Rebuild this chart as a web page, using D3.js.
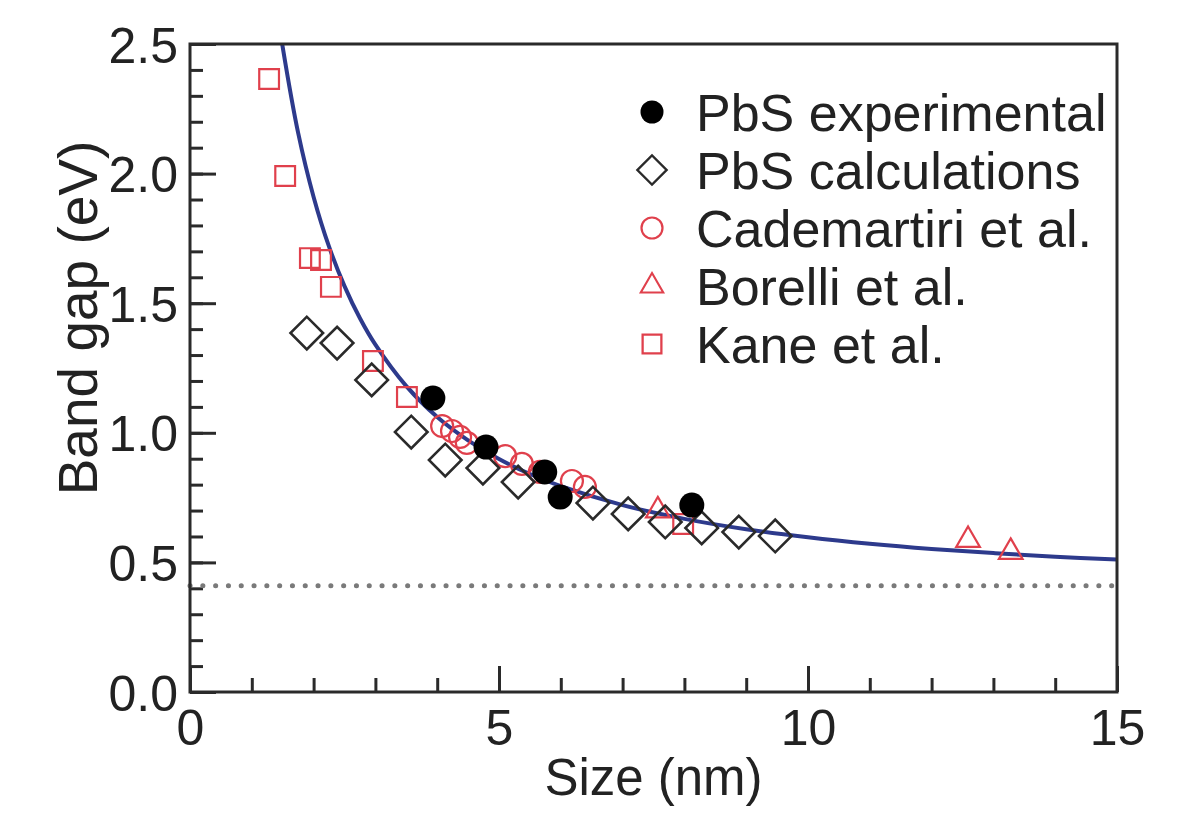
<!DOCTYPE html>
<html>
  <head>
    <meta charset="UTF-8" />
    <script src="https://d3js.org/d3.v7.min.js"></script>
    <style>
      body { margin: 0; background: #fff; }
      text { font-family: "Liberation Sans", Arial, sans-serif; fill: #222; }
    </style>
  </head>
  <body>
    <div id="my_dataviz"></div>

    <script>
      // data: size (nm), band gap (eV)
      var expSize = [3.93, 4.79, 5.74, 5.99, 8.12];
      var expGap = [1.134, 0.945, 0.849, 0.752, 0.721];

      var calcSize = [1.89, 2.38, 2.94, 3.58, 4.13, 4.74, 5.31, 6.52, 7.09, 7.69, 8.28, 8.88, 9.47];
      var calcGap = [1.385, 1.346, 1.204, 1.003, 0.895, 0.864, 0.81, 0.729, 0.687, 0.656, 0.633, 0.617, 0.602];

      var cadSize = [4.08, 4.24, 4.37, 4.48, 5.1, 5.37, 5.66, 6.18, 6.39];
      var cadGap = [1.026, 1.007, 0.984, 0.961, 0.91, 0.88, 0.849, 0.814, 0.791];

      var borSize = [7.57, 12.59, 13.28];
      var borGap = [0.70, 0.586, 0.54];

      var kaneSize = [1.28, 1.54, 1.94, 2.12, 2.28, 2.96, 3.51, 7.98];
      var kaneGap = [2.365, 1.991, 1.674, 1.667, 1.563, 1.277, 1.138, 0.648];

      // fitted curve, sampled by eye along the blue line
      var fitSize = [1.45, 1.5, 1.75, 2, 2.25, 2.5, 2.75, 3, 3.5, 4, 4.5, 5, 5.5, 6, 7, 8, 9, 10, 11, 12, 13, 14, 15];
      var fitGap = [2.568, 2.488, 2.157, 1.91, 1.718, 1.566, 1.442, 1.34, 1.18, 1.061, 0.971, 0.899, 0.841, 0.794, 0.721, 0.668, 0.628, 0.597, 0.572, 0.552, 0.536, 0.522, 0.511];

      var bulkGap = 0.41;

      var xTicks = [0, 5, 10, 15];
      var yTicks = [0.0, 0.5, 1.0, 1.5, 2.0, 2.5];

      var legendNames = ["PbS experimental", "PbS calculations", "Cademartiri et al.", "Borelli et al.", "Kane et al."];

      var width = 1178, height = 821;
      var margin = { top: 44, right: 61, bottom: 129, left: 190 };
      var innerW = width - margin.left - margin.right;
      var innerH = height - margin.top - margin.bottom;

      var red = "#e0404c";
      var dark = "#2a2a2a";

      var svg = d3
        .select("#my_dataviz")
        .append("svg")
        .attr("width", width)
        .attr("height", height);

      var g = svg.append("g").attr("transform", "translate(" + margin.left + "," + margin.top + ")");

      var xScale = d3.scaleLinear().domain([0, 15]).range([0, innerW]);
      var yScale = d3.scaleLinear().domain([0, 2.5]).range([innerH, 0]);

      svg.append("clipPath").attr("id", "plotclip")
        .append("rect").attr("x", 0).attr("y", 0).attr("width", innerW).attr("height", innerH);

      // minor ticks (inside)
      g.append("g")
        .call(d3.axisLeft(yScale).tickValues(d3.range(0, 2.51, 0.1)).tickSize(-13).tickFormat(""))
        .call(s => s.select(".domain").remove());
      g.append("g")
        .attr("transform", "translate(0," + innerH + ")")
        .call(d3.axisBottom(xScale).tickValues(d3.range(0, 15.1, 1)).tickSize(-14).tickFormat(""))
        .call(s => s.select(".domain").remove());

      // major ticks with labels
      var yAxis = g.append("g")
        .call(d3.axisLeft(yScale).tickValues(yTicks).tickSize(-26).tickPadding(12).tickFormat(d3.format(".1f")));
      yAxis.select(".domain").remove();
      yAxis.selectAll("text").attr("x", -12).style("font-size", "50px").attr("dy", "0.36em");

      var xAxis = g.append("g")
        .attr("transform", "translate(0," + innerH + ")")
        .call(d3.axisBottom(xScale).tickValues(xTicks).tickSize(-26).tickFormat(d3.format("d")));
      xAxis.select(".domain").remove();
      xAxis.selectAll("text").attr("y", 8).attr("dy", "0.9em").style("font-size", "50px");

      g.selectAll(".tick line").attr("stroke", dark).attr("stroke-width", 3);

      // dotted bulk line
      g.append("line")
        .attr("x1", xScale(0)).attr("x2", xScale(15))
        .attr("y1", yScale(bulkGap)).attr("y2", yScale(bulkGap))
        .attr("stroke", "#7a7a7a")
        .attr("stroke-width", 5)
        .attr("stroke-linecap", "round")
        .attr("stroke-dasharray", "0.1,12.7");

      // fit curve
      var fitData = fitSize.map((d, i) => ({ x: d, y: fitGap[i] }));
      g.append("path")
        .datum(fitData)
        .attr("clip-path", "url(#plotclip)")
        .attr("fill", "none")
        .attr("stroke", "#2d3a8c")
        .attr("stroke-width", 4)
        .attr("d", d3.line().x(d => xScale(d.x)).y(d => yScale(d.y)).curve(d3.curveCatmullRom));

      // markers
      var diamond = d3.symbol().type(d3.symbolSquare).size(530)();
      var square = d3.symbol().type(d3.symbolSquare).size(390)();
      var triangle = d3.symbol().type(d3.symbolTriangle2).size(400)();

      function pts(xs, ys) { return xs.map((d, i) => ({ x: d, y: ys[i] })); }

      g.selectAll(".kane").data(pts(kaneSize, kaneGap)).join("path")
        .attr("d", square)
        .attr("transform", d => "translate(" + xScale(d.x) + "," + yScale(d.y) + ")")
        .attr("fill", "none").attr("stroke", red).attr("stroke-width", 2.2);

      g.selectAll(".bor").data(pts(borSize, borGap)).join("path")
        .attr("d", triangle)
        .attr("transform", d => "translate(" + xScale(d.x) + "," + yScale(d.y) + ")")
        .attr("fill", "none").attr("stroke", red).attr("stroke-width", 2.2);

      g.selectAll(".cad").data(pts(cadSize, cadGap)).join("circle")
        .attr("cx", d => xScale(d.x)).attr("cy", d => yScale(d.y)).attr("r", 11)
        .attr("fill", "none").attr("stroke", red).attr("stroke-width", 2.2);

      g.selectAll(".calc").data(pts(calcSize, calcGap)).join("path")
        .attr("d", diamond)
        .attr("transform", d => "translate(" + xScale(d.x) + "," + yScale(d.y) + ") rotate(45)")
        .attr("fill", "none").attr("stroke", dark).attr("stroke-width", 2.6);

      g.selectAll(".exp").data(pts(expSize, expGap)).join("circle")
        .attr("cx", d => xScale(d.x)).attr("cy", d => yScale(d.y)).attr("r", 12.5)
        .attr("fill", "#000");

      // frame
      g.append("rect")
        .attr("width", innerW).attr("height", innerH)
        .attr("fill", "none").attr("stroke", dark).attr("stroke-width", 3);

      // axis titles
      svg.append("text")
        .attr("x", margin.left + xScale(7.5)).attr("y", 795)
        .attr("text-anchor", "middle").style("font-size", "51px")
        .text("Size (nm)");
      svg.append("text")
        .attr("transform", "translate(97,318) rotate(-90)")
        .attr("text-anchor", "middle").style("font-size", "55px")
        .text("Band gap (eV)");

      // legend
      var leg = svg.append("g").attr("transform", "translate(652,112)");
      var rowH = 58;
      legendNames.forEach(function (name, i) {
        var row = leg.append("g").attr("transform", "translate(0," + i * rowH + ")");
        if (i === 0) row.append("circle").attr("r", 11.5).attr("fill", "#000");
        if (i === 1) row.append("path").attr("d", diamond).attr("transform", "rotate(45) scale(0.9)")
          .attr("fill", "none").attr("stroke", dark).attr("stroke-width", 2.6);
        if (i === 2) row.append("circle").attr("r", 10.5).attr("fill", "none").attr("stroke", red).attr("stroke-width", 2.2);
        if (i === 3) row.append("path").attr("d", triangle).attr("transform", "scale(0.95)")
          .attr("fill", "none").attr("stroke", red).attr("stroke-width", 2.2);
        if (i === 4) row.append("path").attr("d", square).attr("transform", "scale(0.95)")
          .attr("fill", "none").attr("stroke", red).attr("stroke-width", 2.4);
        row.append("text").attr("x", 44).attr("dy", "0.36em").style("font-size", "52px").text(name);
      });
    </script>
  </body>
</html>
